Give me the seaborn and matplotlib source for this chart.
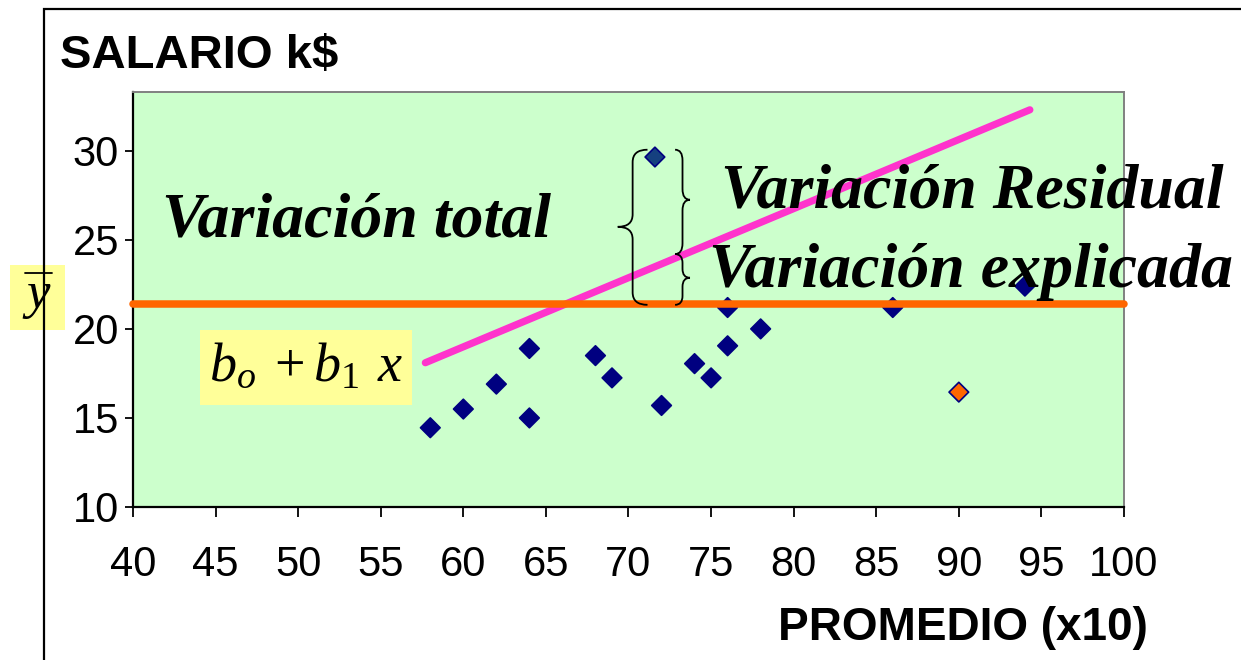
import numpy as np
import pandas as pd
import seaborn as sns
import matplotlib
matplotlib.use("Agg")
import matplotlib.pyplot as plt
from matplotlib.patches import Rectangle, PathPatch
from matplotlib.path import Path
from matplotlib.lines import Line2D

# ---------------- data ----------------
promedio = [58, 60, 62, 64, 64, 68, 69, 71.6, 72, 74, 75, 76, 76, 78, 86, 90, 94]
salario = [14.45, 15.5, 16.9, 18.9, 15.0, 18.5, 17.25, 29.65, 15.7, 18.05, 17.25,
           21.2, 19.05, 20.0, 21.2, 16.45, 22.4]
grupo = ["base"] * 7 + ["atipico"] + ["base"] * 7 + ["naranja"] + ["base"]
recta_x = [57.7, 94.3]
recta_y = [18.1, 32.3]
media_x = [40, 100]
media_y = 21.4
x_ticks = [40, 45, 50, 55, 60, 65, 70, 75, 80, 85, 90, 95, 100]
y_ticks = [10, 15, 20, 25, 30]

W, H = 1241, 660
def fx(px):
    return px / W
def fy(py):
    return 1 - py / H

sns.set_theme(style="white")
plt.rcParams["font.family"] = ["Liberation Sans", "DejaVu Sans"]
plt.rcParams["text.color"] = "black"
plt.rcParams["xtick.color"] = "black"
plt.rcParams["ytick.color"] = "black"
plt.rcParams["mathtext.fontset"] = "custom"
plt.rcParams["mathtext.rm"] = "Liberation Serif"
plt.rcParams["mathtext.it"] = "Liberation Serif:italic"

fig = plt.figure(figsize=(W / 100, H / 100), dpi=100)
fig.patch.set_facecolor("white")
ax = fig.add_axes([fx(133), fy(507), fx(1124) - fx(133), fy(92) - fy(507)])
ax.set_facecolor("#CCFFCC")

df = pd.DataFrame({"promedio": promedio, "salario": salario, "grupo": grupo})
sns.scatterplot(data=df, x="promedio", y="salario", hue="grupo",
                palette={"base": "#000080", "atipico": "#15407F", "naranja": "#FF6600"},
                edgecolor="#000080", linewidth=1.2, marker="D", s=100,
                legend=False, ax=ax, zorder=3)

sns.lineplot(x=recta_x, y=recta_y, color="#FF33CC", linewidth=5.2, ax=ax,
             solid_capstyle="round", zorder=4)
ax.plot(media_x, [media_y, media_y], color="#FF6600", linewidth=5.4,
        solid_capstyle="round", clip_on=False, zorder=5)

ax.set_xlim(40, 100)
ax.set_ylim(10, 33.3)
ax.set_xticks(x_ticks)
ax.set_yticks(y_ticks)
ax.set_xticklabels([str(t) for t in x_ticks])
ax.set_yticklabels([str(t) for t in y_ticks])
ax.set_xlabel("")
ax.set_ylabel("")
ax.tick_params(axis="x", direction="out", length=7, width=1.3, pad=20,
               labelsize=30, colors="black", bottom=True)
ax.tick_params(axis="y", direction="out", length=6, width=1.3, pad=4,
               labelsize=30, colors="black", left=True)
for s in ["left", "bottom"]:
    ax.spines[s].set_color("black")
    ax.spines[s].set_linewidth(1.6)
for s in ["top", "right"]:
    ax.spines[s].set_color("#808080")
    ax.spines[s].set_linewidth(1.4)


def brace(x, y0, y1, ym, d, r, direction):
    tip = x + direction * d
    curl = x - direction * d
    verts = [(curl, y1), (x, y1), (x, y1 - r), (x, ym + r), (x, ym), (tip, ym),
             (x, ym), (x, ym - r), (x, y0 + r), (x, y0), (curl, y0)]
    codes = [Path.MOVETO, Path.CURVE3, Path.CURVE3, Path.LINETO, Path.CURVE3,
             Path.CURVE3, Path.CURVE3, Path.CURVE3, Path.LINETO, Path.CURVE3,
             Path.CURVE3]
    ax.add_patch(PathPatch(Path(verts, codes), fill=False, ec="black", lw=1.3,
                           zorder=6))

brace(70.25, 21.35, 30.06, 25.73, 0.9, 0.7, -1)
brace(73.27, 24.2, 30.06, 27.25, 0.45, 0.6, 1)
brace(73.27, 21.35, 24.2, 22.87, 0.45, 0.5, 1)

serif = dict(family="Liberation Serif", weight="bold", style="italic",
             color="black", va="baseline", ha="left", zorder=10)
fig.text(fx(162), fy(236), "Variación total", fontsize=46, **serif)
fig.text(fx(721), fy(208), "Variación Residual", fontsize=46, **serif)
fig.text(fx(709), fy(287), "Variación explicada", fontsize=46, **serif)

# yellow boxes
fig.add_artist(Rectangle((fx(10), fy(330)), fx(65) - fx(10), fy(265) - fy(330),
                         transform=fig.transFigure, fc="#FFFF99", ec="none", zorder=8))
fig.text(fx(38), fy(308), "y", fontsize=38, family="Liberation Serif", style="italic",
         ha="center", va="baseline", zorder=9)
fig.add_artist(Line2D([fx(25), fx(52)], [fy(273), fy(273)], transform=fig.transFigure,
                      color="black", lw=1.3, zorder=9))
fig.add_artist(Rectangle((fx(200), fy(405)), fx(412) - fx(200), fy(330) - fy(405),
                         transform=fig.transFigure, fc="#FFFF99", ec="none", zorder=8))
fig.text(fx(209), fy(380), r"$b_{o}\;+b_{1}\;\,x$", fontsize=39, ha="left",
         va="baseline", zorder=9)

fig.text(fx(60), fy(68), "SALARIO k$", fontsize=34, weight="bold", ha="left",
         va="baseline")
fig.text(fx(1148), fy(640), "PROMEDIO (x10)", fontsize=33, weight="bold", ha="right",
         va="baseline")

# outer frame (cropped)
fig.add_artist(Rectangle((fx(44), -0.2), 1.2, fy(8.5) + 0.2, transform=fig.transFigure,
                         fill=False, ec="black", lw=1.6, zorder=20))

fig.savefig("out.png", dpi=100)
